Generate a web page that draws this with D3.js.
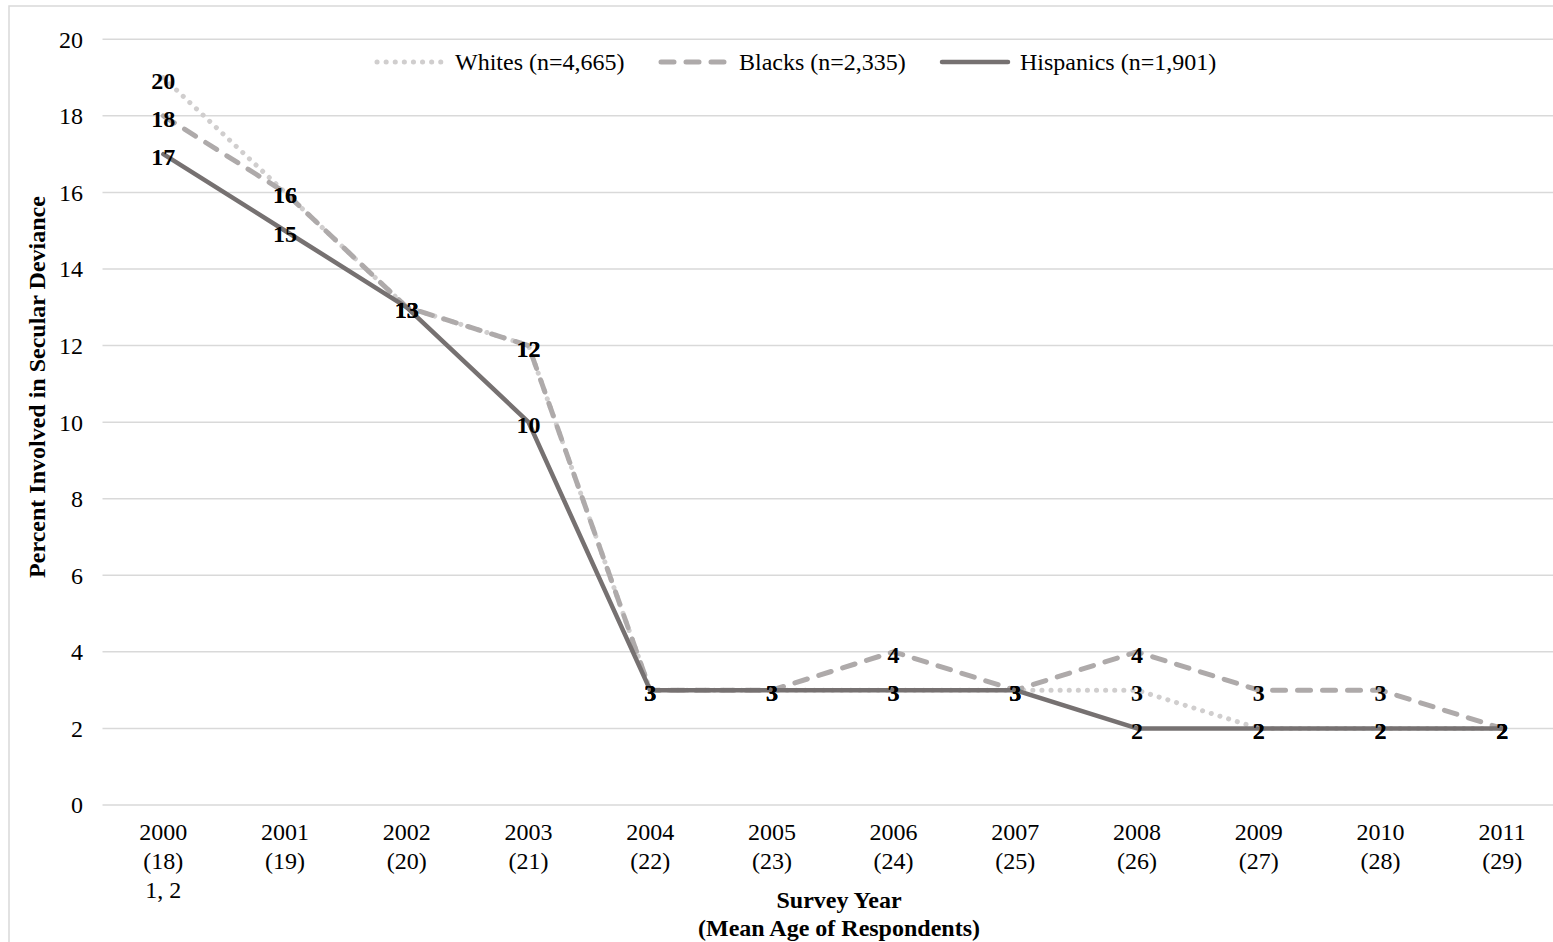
<!DOCTYPE html>
<html>
<head>
<meta charset="utf-8">
<script src="https://cdn.jsdelivr.net/npm/d3@7"></script>
<style>
  html, body { margin: 0; padding: 0; background: #fff; }
  svg { display: block; font-family: "Liberation Serif", "Times New Roman", serif; }
</style>
</head>
<body>
<svg id="chart" width="1553" height="942"></svg>
<script>
// ---- data ----
const years = ["2000","2001","2002","2003","2004","2005","2006","2007","2008","2009","2010","2011"];
const ages = ["(18)","(19)","(20)","(21)","(22)","(23)","(24)","(25)","(26)","(27)","(28)","(29)"];
const footnotes = ["1, 2","","","","","","","","","","",""];
const yTicks = [0,2,4,6,8,10,12,14,16,18,20];

const whites = [19,16,13,12,3,3,3,3,3,2,2,2];
const whitesLabels = ["20","16","13","12","3","3","3","3","3","2","2","2"];
const blacks = [18,16,13,12,3,3,4,3,4,3,3,2];
const blacksLabels = ["18","16","13","12","3","3","4","3","4","3","3","2"];
const hispanics = [17,15,13,10,3,3,3,3,2,2,2,2];
const hispanicsLabels = ["17","15","13","10","3","3","3","3","2","2","2","2"];

const seriesNames = ["Whites (n=4,665)","Blacks (n=2,335)","Hispanics (n=1,901)"];

const yTitle = "Percent Involved in Secular Deviance";
const xTitle1 = "Survey Year";
const xTitle2 = "(Mean Age of Respondents)";

// ---- layout ----
const svg = d3.select("#chart");
const plot = {left: 102.5, right: 1563, top: 39.3, bottom: 805};

const series = [
  {name: seriesNames[0], values: whites, labels: whitesLabels, color: "#d0cece", dash: "0.1,9", width: 5, legX: 377},
  {name: seriesNames[1], values: blacks, labels: blacksLabels, color: "#aeaaaa", dash: "13,12", width: 5, legX: 661},
  {name: seriesNames[2], values: hispanics, labels: hispanicsLabels, color: "#767171", dash: null, width: 4.5, legX: 942}
];

const x = d3.scaleBand().domain(years).range([plot.left, plot.right]);
const cx = d => x(d) + x.bandwidth() / 2;
const y = d3.scaleLinear().domain([0, 20]).range([plot.bottom, plot.top]);

// chart border
svg.append("rect")
  .attr("x", 9).attr("y", 6).attr("width", 1600).attr("height", 1000)
  .attr("fill", "none").attr("stroke", "#d9d9d9").attr("stroke-width", 1.5);

// gridlines
svg.append("g").selectAll("line").data(yTicks).join("line")
  .attr("x1", plot.left).attr("x2", plot.right)
  .attr("y1", d => y(d)).attr("y2", d => y(d))
  .attr("stroke", "#d9d9d9").attr("stroke-width", 1.5);

// y axis labels
const yAxis = svg.append("g")
  .attr("transform", `translate(${plot.left},0)`)
  .call(d3.axisLeft(y).tickValues(yTicks).tickSize(0).tickPadding(19.5).tickFormat(d3.format("d")));
yAxis.select(".domain").remove();
yAxis.selectAll("text")
  .attr("font-family", "Liberation Serif").attr("font-size", 24).attr("fill", "#000")
  .attr("dy", "0.33em");

// x axis labels
const xAxis = svg.append("g")
  .attr("transform", `translate(0,${plot.bottom})`)
  .call(d3.axisBottom(x).tickSize(0).tickPadding(0).tickFormat(() => ""));
xAxis.select(".domain").remove();
xAxis.selectAll(".tick text").remove();
xAxis.selectAll(".tick").each(function(d, i) {
  const t = d3.select(this).append("text")
    .attr("font-family", "Liberation Serif").attr("font-size", 24).attr("fill", "#000")
    .attr("text-anchor", "middle");
  const lines = [years[i], ages[i], footnotes[i]].filter(s => s);
  lines.forEach((s, k) => {
    t.append("tspan").attr("x", 0).attr("y", 35 + k * 29).text(s);
  });
});

// axis titles
svg.append("text")
  .attr("transform", `translate(45,387) rotate(-90)`)
  .attr("text-anchor", "middle")
  .attr("font-size", 24).attr("font-weight", "bold").attr("fill", "#000")
  .text(yTitle);
svg.append("text")
  .attr("x", 839).attr("y", 908).attr("text-anchor", "middle")
  .attr("font-size", 24).attr("font-weight", "bold").attr("fill", "#000")
  .text(xTitle1);
svg.append("text")
  .attr("x", 839).attr("y", 936).attr("text-anchor", "middle")
  .attr("font-size", 24).attr("font-weight", "bold").attr("fill", "#000")
  .text(xTitle2);

// lines
const line = d3.line().x((d, i) => cx(years[i])).y(d => y(d));
series.forEach(s => {
  svg.append("path")
    .datum(s.values)
    .attr("d", line)
    .attr("fill", "none")
    .attr("stroke", s.color)
    .attr("stroke-width", s.width)
    .attr("stroke-linecap", "round")
    .attr("stroke-linejoin", "round")
    .attr("stroke-dasharray", s.dash);
});

// data labels
series.forEach(s => {
  svg.append("g").selectAll("text").data(s.values).join("text")
    .attr("x", (d, i) => cx(years[i]))
    .attr("y", d => y(d) + 11)
    .attr("text-anchor", "middle")
    .attr("font-size", 24).attr("font-weight", "bold").attr("fill", "#000")
    .text((d, i) => s.labels[i]);
});

// legend
const legY = 62;
series.forEach(s => {
  svg.append("line")
    .attr("x1", s.legX).attr("x2", s.legX + 66)
    .attr("y1", legY).attr("y2", legY)
    .attr("stroke", s.color).attr("stroke-width", s.width)
    .attr("stroke-linecap", "round")
    .attr("stroke-dasharray", s.dash);
  svg.append("text")
    .attr("x", s.legX + 78).attr("y", legY + 8)
    .attr("font-size", 24).attr("fill", "#000")
    .text(s.name);
});
</script>
</body>
</html>
